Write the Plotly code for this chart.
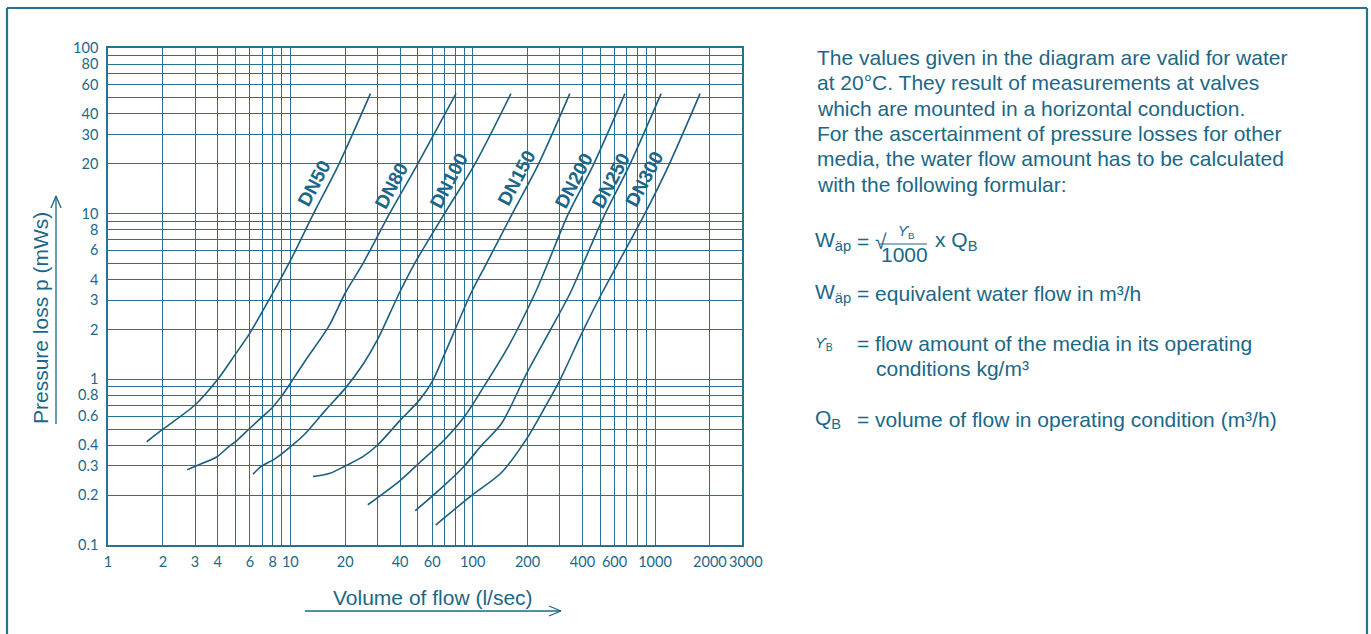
import math
import plotly.graph_objects as go

# ---------------- data ----------------
series_names = ["DN50", "DN80", "DN100", "DN150", "DN200", "DN250", "DN300"]

dn50_flow = [1.63, 2, 3, 4, 5, 6, 7, 8, 10, 13.4, 18.5, 27.5]
dn50_loss = [0.42, 0.5, 0.7, 1.0, 1.42, 1.9, 2.55, 3.3, 5.2, 10, 20, 53]

dn80_flow = [2.72, 3.04, 3.96, 4.6, 5.09, 5.98, 6.96, 7.88, 8.93, 10, 12.1, 16.3, 20, 25, 35, 50, 81]
dn80_loss = [0.285, 0.30, 0.341, 0.393, 0.427, 0.505, 0.589, 0.667, 0.789, 0.945, 1.30, 2.10, 3.32, 5, 10, 20, 53]

dn100_flow = [6.24, 6.98, 8.26, 10, 12.1, 15.6, 20, 24.9, 30, 35.2, 39.6, 48, 70, 103, 162]
dn100_loss = [0.268, 0.30, 0.332, 0.391, 0.471, 0.652, 0.882, 1.22, 1.73, 2.51, 3.32, 5, 10, 20, 53]

dn150_flow = [13.3, 16.3, 20, 24.9, 30, 40, 51, 60, 70.5, 98, 119, 165, 230, 341]
dn150_loss = [0.259, 0.270, 0.30, 0.340, 0.40, 0.565, 0.749, 0.968, 1.44, 3.32, 5, 10, 20, 53]

dn200_flow = [26.6, 40, 51.6, 69.6, 90, 112, 157, 220, 258, 335, 462, 684]
dn200_loss = [0.175, 0.245, 0.317, 0.429, 0.594, 0.861, 1.58, 3.32, 5, 10, 20, 53]

dn250_flow = [48.4, 66.8, 90.1, 112, 144, 198, 261, 343, 404, 533, 731, 1080]
dn250_loss = [0.161, 0.219, 0.30, 0.40, 0.541, 1.09, 1.90, 3.32, 5, 10, 20, 53]

dn300_flow = [62.7, 98, 144, 198, 250, 301, 397, 512, 626, 880, 1200, 1766]
dn300_loss = [0.132, 0.198, 0.274, 0.439, 0.683, 0.99, 1.90, 3.32, 5, 10, 20, 53]

# label anchor points (flow, loss) for the rotated series names
label_flow = [13.5, 35.9, 74, 175, 359, 573, 881]
label_loss = [15.2, 14.8, 15.9, 16.5, 15.9, 15.9, 16.2]

# axis tick labels (major) and extra grid values (minor)
x_ticks = [1, 2, 3, 4, 6, 8, 10, 20, 40, 60, 100, 200, 400, 600, 1000, 2000]
x_ticktext = ["1", "2", "3", "4", "6", "8", "10", "20", "40", "60", "100", "200",
              "400", "600", "1000", "2000"]
x_end_tick = 3000            # right end of the axis, labelled separately
x_end_text = "3000"
x_minor = [5, 7, 9, 30, 50, 70, 80, 90, 300, 500, 700, 800, 900]
y_ticks = [0.1, 0.2, 0.3, 0.4, 0.6, 0.8, 1, 2, 3, 4, 6, 8, 10, 20, 30, 40, 60, 80, 100]
y_ticktext = ["0.1", "0.2", "0.3", "0.4", "0.6", "0.8", "1", "2", "3", "4", "6", "8",
              "10", "20", "30", "40", "60", "80", "100"]
y_minor = [0.5, 0.7, 0.9, 5, 7, 9, 50, 70, 90]

x_title = "Volume of flow (l/sec)"
y_title = "Pressure loss p (mWs)"

paragraph = [
    "The values given in the diagram are valid for water",
    "at 20°C. They result of measurements at valves",
    "which are mounted in a horizontal conduction.",
    "For the ascertainment of pressure losses for other",
    "media, the water flow amount has to be calculated",
    "with the following formular:",
]

# ---------------- styling ----------------
TEAL = "#1b6787"
CURVE = "#1a5f7e"
GRID = "#2a7091"
W, H = 1371, 634
PL, PR, PT, PB = 108, 742, 48, 545   # plot area in page pixels
FONT = "Liberation Sans, Arial, sans-serif"
TICKFONT = dict(family="Lato", size=14.5, color=TEAL)

def pxx(x):
    return (x - PL) / (PR - PL)

def pyy(y):
    return (PB - y) / (PB - PT)

flows = [dn50_flow, dn80_flow, dn100_flow, dn150_flow, dn200_flow, dn250_flow, dn300_flow]
losses = [dn50_loss, dn80_loss, dn100_loss, dn150_loss, dn200_loss, dn250_loss, dn300_loss]

fig = go.Figure()
for name, fx, ly in zip(series_names, flows, losses):
    fig.add_trace(go.Scatter(x=fx, y=ly, mode="lines", name=name,
                             line=dict(color=CURVE, width=1.6, shape="spline", smoothing=0.8),
                             showlegend=False, hoverinfo="x+y+name"))

annotations = []
for name, lx, ly in zip(series_names, label_flow, label_loss):
    annotations.append(dict(x=math.log10(lx), y=math.log10(ly), xref="x", yref="y",
                            text="<b>" + name + "</b>", showarrow=False, textangle=-62,
                            font=dict(family=FONT, size=19, color=TEAL)))

# label for the axis end value (placed a little right of the frame like the original)
annotations.append(dict(x=math.log10(x_end_tick), y=pyy(561), xref="x", yref="paper",
                        text=x_end_text, showarrow=False, xanchor="center", yanchor="middle",
                        xshift=4, font=TICKFONT))

TS = 21
line_y = [57, 82, 108, 133, 158, 184]
for t, yy in zip(paragraph, line_y):
    annotations.append(dict(x=pxx(815), y=pyy(yy), xref="paper", yref="paper", text=t,
                            showarrow=False, xanchor="left", yanchor="middle",
                            font=dict(family=FONT, size=TS, color=TEAL)))

def txt(x, y, s, size=TS, anchor="left"):
    annotations.append(dict(x=pxx(x), y=pyy(y), xref="paper", yref="paper", text=s,
                            showarrow=False, xanchor=anchor, yanchor="middle",
                            font=dict(family=FONT, size=size, color=TEAL)))

# formula
txt(813, 241, "W<sub>äp</sub>")
txt(855, 241, "= √")
txt(906, 232, "<i>ϒ</i><sub>B</sub>", size=14, anchor="center")
txt(904, 254, "1000", anchor="center")
txt(933, 241, "x Q<sub>B</sub>")
# definitions
txt(813, 293, "W<sub>äp</sub>")
txt(855, 293, "= equivalent water flow in m³/h")
txt(813, 343, "<i>ϒ</i><sub>B</sub>", size=15)
txt(855, 343, "= flow amount of the media in its operating")
txt(874, 368, "conditions kg/m³")
txt(813, 419, "Q<sub>B</sub>")
txt(855, 419, "= volume of flow in operating condition (m³/h)")

# axis titles
annotations.append(dict(x=pxx(40), y=pyy(318), xref="paper", yref="paper", text=y_title,
                        showarrow=False, textangle=-90, xanchor="center", yanchor="middle",
                        font=dict(family=FONT, size=21, color=TEAL)))
annotations.append(dict(x=pxx(433), y=pyy(597), xref="paper", yref="paper", text=x_title,
                        showarrow=False, xanchor="center", yanchor="middle",
                        font=dict(family=FONT, size=21, color=TEAL)))

shapes = []
def seg(x0, y0, x1, y1, w=1.3, c=TEAL):
    shapes.append(dict(type="line", xref="paper", yref="paper",
                       x0=pxx(x0), y0=pyy(y0), x1=pxx(x1), y1=pyy(y1),
                       line=dict(color=c, width=w)))

# fraction bar
seg(880, 244, 927, 244, w=1.2)
# y arrow
seg(56, 424, 56, 196)
seg(56, 196, 51, 208)
seg(56, 196, 61, 208)
# x arrow
seg(305, 611, 561, 611)
seg(561, 611, 549, 606)
seg(561, 611, 549, 616)
# outer frame (top, left, right)
FR = "#2a7090"
seg(7, 8, 1367, 8, w=2.2, c=FR)
seg(7, 8, 7, 640, w=2.2, c=FR)
seg(1367, 8, 1367, 640, w=2.2, c=FR)

grid_common = dict(showgrid=True, gridcolor=GRID, gridwidth=1.2,
                   showline=True, linecolor=GRID, linewidth=1.5, mirror=True,
                   tickfont=TICKFONT, zeroline=False)
fig.update_layout(
    width=W, height=H,
    margin=dict(l=PL, r=W - PR, t=PT, b=H - PB, pad=0),
    paper_bgcolor="white", plot_bgcolor="white",
    xaxis=dict(type="log", range=[0, math.log10(x_end_tick)], tickmode="array",
               tickvals=x_ticks, ticktext=x_ticktext, tickangle=0,
               ticks="outside", ticklen=3, tickcolor="rgba(0,0,0,0)",
               minor=dict(tickmode="array", tickvals=x_minor, showgrid=True,
                          gridcolor=GRID, gridwidth=1.2, ticks=""),
               **grid_common),
    yaxis=dict(type="log", range=[-1, 2], tickmode="array",
               tickvals=y_ticks, ticktext=y_ticktext,
               ticks="outside", ticklen=5, tickcolor="rgba(0,0,0,0)",
               minor=dict(tickmode="array", tickvals=y_minor, showgrid=True,
                          gridcolor=GRID, gridwidth=1.2, ticks=""),
               **grid_common),
    annotations=annotations,
    shapes=shapes,
)

# remove the page's default body margin so the figure sits at the window origin
fig.write_html("out.html",
               config={"displayModeBar": False},
               post_script="document.body.style.margin='0';"
                           "document.body.style.padding='0';"
                           "document.body.style.overflow='hidden';")
